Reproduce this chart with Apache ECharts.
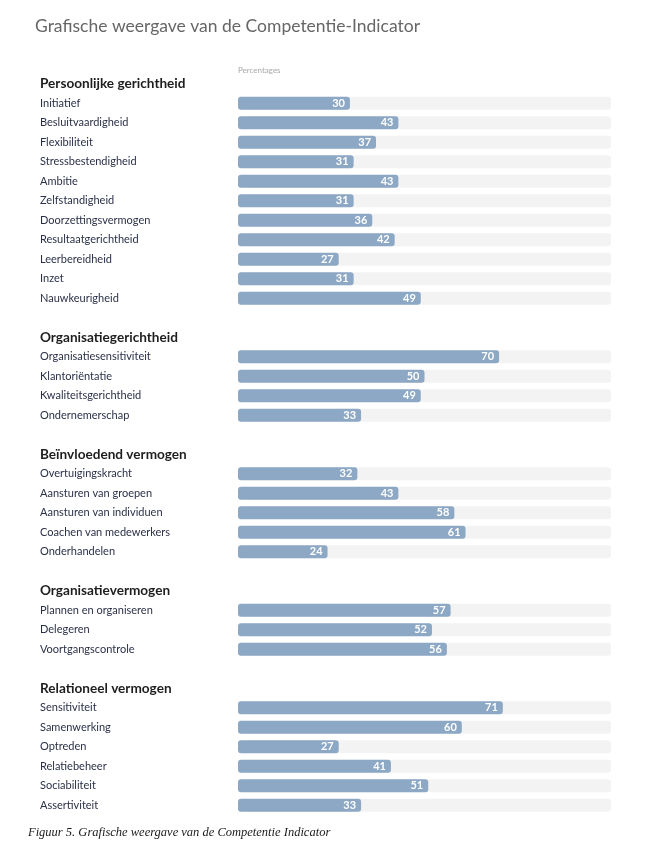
<!DOCTYPE html>
<html>
<head>
<meta charset="utf-8">
<script src="https://cdn.jsdelivr.net/npm/echarts@6/dist/echarts.min.js"></script>
<style>
html,body{margin:0;padding:0;background:#fff;}
#chart{width:650px;height:845px;}
</style>
</head>
<body>
<div id="chart"></div>
<script>
const groupTitles = ['Persoonlijke gerichtheid','Organisatiegerichtheid','Beïnvloedend vermogen','Organisatievermogen','Relationeel vermogen'];
const persoonlijkeNames = ['Initiatief','Besluitvaardigheid','Flexibiliteit','Stressbestendigheid','Ambitie','Zelfstandigheid','Doorzettingsvermogen','Resultaatgerichtheid','Leerbereidheid','Inzet','Nauwkeurigheid'];
const persoonlijkeValues = [30,43,37,31,43,31,36,42,27,31,49];
const organisatieGerNames = ['Organisatiesensitiviteit','Klantoriëntatie','Kwaliteitsgerichtheid','Ondernemerschap'];
const organisatieGerValues = [70,50,49,33];
const beinvloedendNames = ['Overtuigingskracht','Aansturen van groepen','Aansturen van individuen','Coachen van medewerkers','Onderhandelen'];
const beinvloedendValues = [32,43,58,61,24];
const organisatieVermNames = ['Plannen en organiseren','Delegeren','Voortgangscontrole'];
const organisatieVermValues = [57,52,56];
const relationeelNames = ['Sensitiviteit','Samenwerking','Optreden','Relatiebeheer','Sociabiliteit','Assertiviteit'];
const relationeelValues = [71,60,27,41,51,33];
const maxValue = 100;

const groups = [
  [persoonlijkeNames, persoonlijkeValues],
  [organisatieGerNames, organisatieGerValues],
  [beinvloedendNames, beinvloedendValues],
  [organisatieVermNames, organisatieVermValues],
  [relationeelNames, relationeelValues]
];

const cats = [], vals = [], bgs = [], kinds = [];
groups.forEach((g, gi) => {
  if (gi > 0) { cats.push(' blank' + gi); vals.push('-'); bgs.push('-'); kinds.push('blank'); }
  cats.push(groupTitles[gi]); vals.push('-'); bgs.push('-'); kinds.push('head');
  g[0].forEach((n, i) => { cats.push(n); vals.push(g[1][i]); bgs.push(maxValue); kinds.push('item'); });
});

const chart = echarts.init(document.getElementById('chart'), null, {renderer: 'canvas'});
const gridTop = 74, band = 19.5;
chart.setOption({
  animation: false,
  backgroundColor: '#fff',
  title: [
    {text: 'Grafische weergave van de Competentie-Indicator', left: 35, top: 17, padding: 0,
     textStyle: {fontFamily: 'Lato', fontWeight: 'normal', fontSize: 17.5, color: '#666'}},
    {text: 'Percentages', left: 238, top: 66, padding: 0,
     textStyle: {fontFamily: 'Lato', fontWeight: 'normal', fontSize: 8, color: '#a8a8a8'}},
    {text: 'Figuur 5. Grafische weergave van de Competentie Indicator', left: 28, top: 826, padding: 0,
     textStyle: {fontFamily: 'Liberation Serif', fontStyle: 'italic', fontWeight: 'normal', fontSize: 12.5, color: '#1a1a1a'}}
  ],
  grid: {left: 238, right: 39, top: gridTop, height: band * cats.length, containLabel: false},
  xAxis: {type: 'value', min: 0, max: maxValue, show: false},
  yAxis: {
    type: 'category', data: cats, inverse: true,
    axisLine: {show: false}, axisTick: {show: false},
    axisLabel: {
      align: 'left', margin: 198, interval: 0,
      formatter: function (v, idx) {
        if (kinds[idx] === 'blank') return '';
        if (kinds[idx] === 'head') return '{h|' + v + '}';
        return '{i|' + v + '}';
      },
      rich: {
        h: {fontFamily: 'Lato', fontWeight: 'bold', fontSize: 13.6, color: '#1e1e1e', padding: [0, 0, 0, 0]},
        i: {fontFamily: 'Lato', fontWeight: 'normal', fontSize: 11, color: '#2b3048'}
      }
    }
  },
  series: [
    {type: 'bar', data: bgs, barWidth: 13, barGap: '-100%', silent: true,
     itemStyle: {color: '#f3f3f3', borderRadius: 3}, z: 1},
    {type: 'bar', data: vals, barWidth: 13, z: 2,
     itemStyle: {color: '#8ca8c5', borderRadius: 3},
     label: {show: true, position: 'insideRight', offset: [-1, 0], distance: 4,
             color: '#fff', fontFamily: 'Lato', fontWeight: 'bold', fontSize: 11}}
  ]
});
</script>
</body>
</html>
